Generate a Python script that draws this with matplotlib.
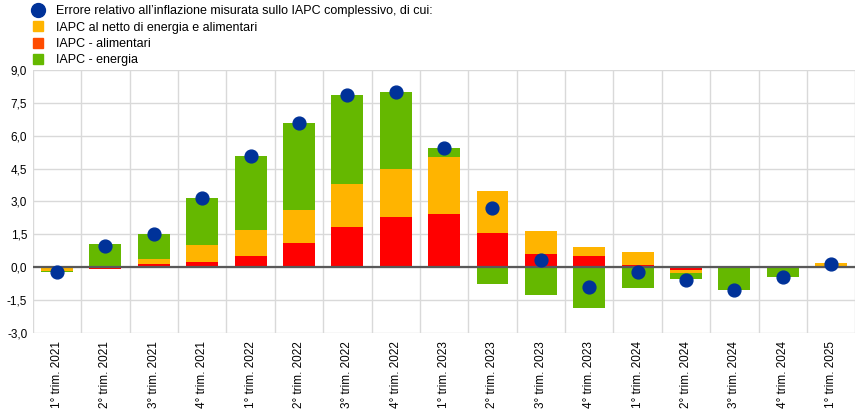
import numpy as np
import matplotlib.pyplot as plt
from matplotlib.lines import Line2D

plt.rcParams['font.family'] = ['Liberation Sans', 'DejaVu Sans']

quarters = ['1° trim. 2021', '2° trim. 2021', '3° trim. 2021', '4° trim. 2021',
            '1° trim. 2022', '2° trim. 2022', '3° trim. 2022', '4° trim. 2022',
            '1° trim. 2023', '2° trim. 2023', '3° trim. 2023', '4° trim. 2023',
            '1° trim. 2024', '2° trim. 2024', '3° trim. 2024', '4° trim. 2024',
            '1° trim. 2025']

# contributions to the error (percentage points)
food   = [0.00, -0.08, 0.14, 0.23, 0.53, 1.12, 1.85, 2.28, 2.45, 1.58, 0.62, 0.49,
          0.12, -0.14, 0.00, -0.02, 0.00]
core   = [-0.17, 0.00, 0.21, 0.80, 1.19, 1.51, 1.97, 2.22, 2.60, 1.92, 1.01, 0.45,
          0.59, -0.13, 0.07, -0.03, 0.21]
energy = [-0.06, 1.08, 1.18, 2.15, 3.36, 3.97, 4.05, 3.51, 0.41, -0.76, -1.28, -1.87,
          -0.93, -0.29, -1.05, -0.38, -0.03]
total  = [-0.20, 0.96, 1.52, 3.16, 5.06, 6.58, 7.86, 8.00, 5.43, 2.70, 0.32, -0.91,
          -0.21, -0.58, -1.04, -0.46, 0.14]

c_blue = '#003299'
c_yellow = '#FFB400'
c_red = '#FF0000'
c_red_leg = '#FF4B00'
c_green = '#65B800'

fig = plt.figure(figsize=(8.64, 4.15), dpi=100)
ax = fig.add_axes([0.038, 0.198, 0.952, 0.633])

x = np.arange(len(quarters))
w = 0.66

# stack positives and negatives separately
pos_base = np.zeros(len(x))
neg_base = np.zeros(len(x))
for vals, col in [(food, c_red), (core, c_yellow), (energy, c_green)]:
    v = np.array(vals)
    p = np.where(v > 0, v, 0)
    n = np.where(v < 0, v, 0)
    ax.bar(x, p, w, bottom=pos_base, color=col, zorder=2)
    ax.bar(x, n, w, bottom=neg_base, color=col, zorder=2)
    pos_base += p
    neg_base += n

ax.axhline(0, color='#595959', lw=1.6, zorder=3)
ax.scatter(x, total, s=85, color=c_blue, zorder=4)

ax.set_xlim(-0.5, len(x) - 0.5)
ax.set_ylim(-3.0, 9.0)
yt = np.arange(-3.0, 9.01, 1.5)
ax.set_yticks(yt)
ax.set_yticklabels([f'{v:.1f}'.replace('.', ',') for v in yt], fontsize=8.5)
ax.set_xticks(x)
ax.set_xticklabels(quarters, rotation=90, fontsize=8.5)
ax.set_xticks(np.arange(-0.5, len(x), 1), minor=True)
ax.grid(True, axis='y', color='#d9d9d9', lw=1, zorder=0)
ax.grid(True, axis='x', which='minor', color='#d9d9d9', lw=1, zorder=0)
ax.tick_params(axis='both', which='both', length=0)
ax.tick_params(axis='y', pad=4)
ax.tick_params(axis='x', pad=6)
for s in ax.spines.values():
    s.set_visible(False)

handles = [
    Line2D([], [], ls='none', marker='o', ms=10, color=c_blue),
    Line2D([], [], ls='none', marker='s', ms=7.5, color=c_yellow),
    Line2D([], [], ls='none', marker='s', ms=7.5, color=c_red_leg),
    Line2D([], [], ls='none', marker='s', ms=7.5, color=c_green),
]
labels = ['Errore relativo all\u2019inflazione misurata sullo IAPC complessivo, di cui:',
          'IAPC al netto di energia e alimentari',
          'IAPC - alimentari',
          'IAPC - energia']
fig.legend(handles, labels, loc='upper left', bbox_to_anchor=(0.027, 1.005),
           frameon=False, fontsize=9, handletextpad=0.85, labelspacing=0.34,
           handlelength=1.2, borderaxespad=0.2)

fig.savefig('out.png', dpi=100)
